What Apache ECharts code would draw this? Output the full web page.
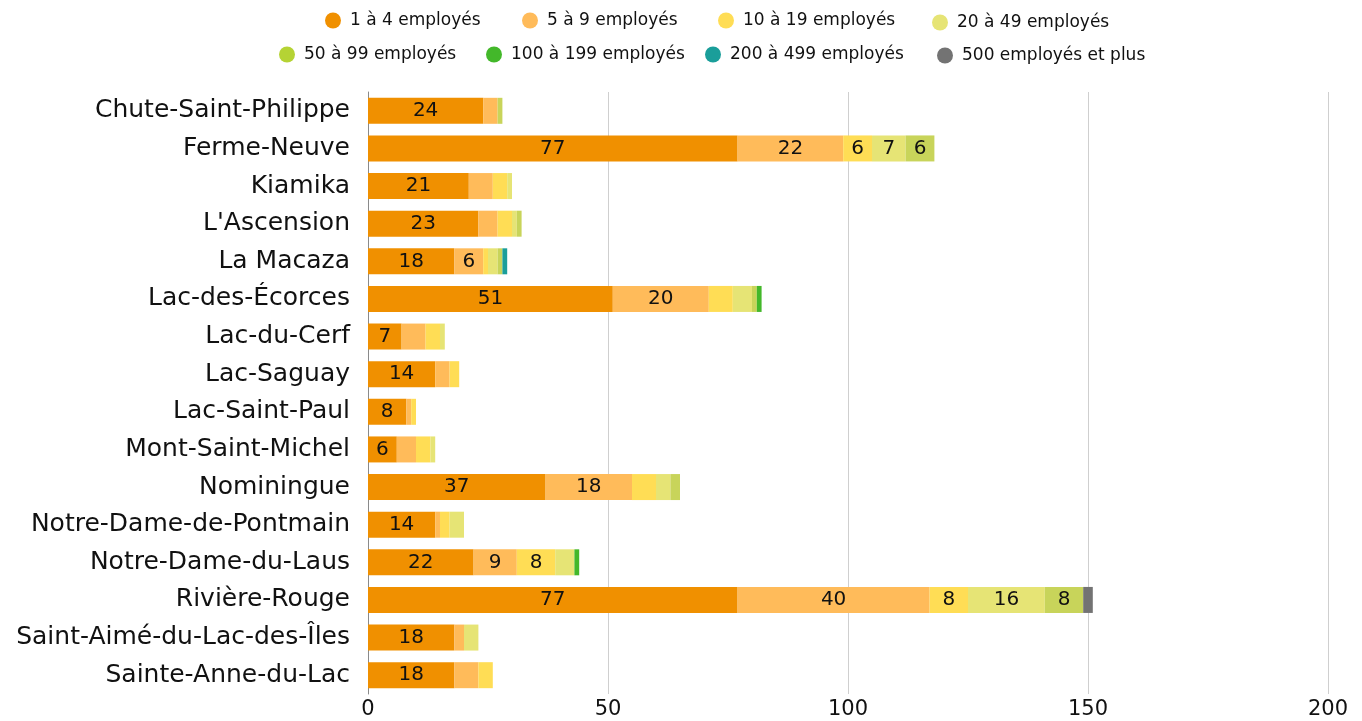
<!DOCTYPE html>
<html><head><meta charset="utf-8">
<script src="https://cdn.jsdelivr.net/npm/echarts@6/dist/echarts.min.js"></script>
<style>html,body{margin:0;padding:0;background:#fff}#c{width:1362px;height:721px}</style>
</head><body><div id="c"></div>
<script>
var categories = ["Chute-Saint-Philippe","Ferme-Neuve","Kiamika","L'Ascension","La Macaza","Lac-des-Écorces","Lac-du-Cerf","Lac-Saguay","Lac-Saint-Paul","Mont-Saint-Michel","Nominingue","Notre-Dame-de-Pontmain","Notre-Dame-du-Laus","Rivière-Rouge","Saint-Aimé-du-Lac-des-Îles","Sainte-Anne-du-Lac"];
var seriesNames = ["1 à 4 employés","5 à 9 employés","10 à 19 employés","20 à 49 employés","50 à 99 employés","100 à 199 employés","200 à 499 employés","500 employés et plus"];
var s1to4    = [24,77,21,23,18,51,7,14,8,6,37,14,22,77,18,18];
var s5to9    = [3,22,5,4,6,20,5,3,1,4,18,1,9,40,2,5];
var s10to19  = [0,6,3,3,1,5,3,2,1,3,5,2,8,8,0,3];
var s20to49  = [0,7,1,1,2,4,1,0,0,1,3,3,4,16,3,0];
var s50to99  = [1,6,0,1,1,1,0,0,0,0,2,0,0,8,0,0];
var s100to199= [0,0,0,0,0,1,0,0,0,0,0,0,1,0,0,0];
var s200to499= [0,0,0,0,1,0,0,0,0,0,0,0,0,0,0,0];
var s500plus = [0,0,0,0,0,0,0,0,0,0,0,0,0,2,0,0];
var xTicks = [0,50,100,150,200];

var allData = [s1to4,s5to9,s10to19,s20to49,s50to99,s100to199,s200to499,s500plus];
var barColors = ["#f09000","#ffbb5a","#ffdd55","#e6e475","#c8d45a","#43b82a","#1a9e9a","#737373"];
var legendColors = ["#f09000","#ffbb5a","#ffdd55","#e6e475","#b5d334","#43b82a","#1a9e9a","#737373"];
var FONT = "'DejaVu Sans', sans-serif";
// legend placement (icon centre x, row centre y)
var legendX = [333,530,726,940,287,494,713,945];
var legendY = [20,20,20,22,54,54,54,55];

var series = seriesNames.map(function(n,i){
  return {
    name:n, type:'bar', stack:'t', barWidth:26,
    itemStyle:{color:barColors[i]},
    label:{show:true, position:'inside', color:'#111', fontSize:20, fontFamily:FONT,
      formatter:function(p){return p.value>=6?String(p.value):'';}},
    data: allData[i]
  };
});

var legends = seriesNames.map(function(n,i){
  return {left:legendX[i]-13, top:legendY[i]-13, icon:'circle', itemWidth:16, itemHeight:16,
    textStyle:{fontSize:17, color:'#111', fontFamily:FONT, padding:[0,0,0,4]},
    data:[{name:n, itemStyle:{color:legendColors[i]}}]};
});

var chart = echarts.init(document.getElementById('c'));
chart.setOption({
  animation:false,
  textStyle:{fontFamily:FONT},
  legend:legends,
  grid:{left:368, right:34, top:92, bottom:27, containLabel:false},
  xAxis:{type:'value', min:0, max:200, interval:50,
    axisLine:{show:false}, axisTick:{show:false},
    splitLine:{lineStyle:{color:'#cfcfcf', width:1}},
    axisLabel:{fontSize:21, color:'#111', fontFamily:FONT, margin:5,
      formatter:function(v){return xTicks.indexOf(v)>=0?String(v):'';}}
  },
  yAxis:{type:'category', data:categories, inverse:true,
    axisLine:{show:true, lineStyle:{color:'#8a8a8a', width:1}},
    axisTick:{show:false},
    axisLabel:{fontSize:25, color:'#111', fontFamily:FONT, margin:18}
  },
  series:series
});
</script></body></html>
